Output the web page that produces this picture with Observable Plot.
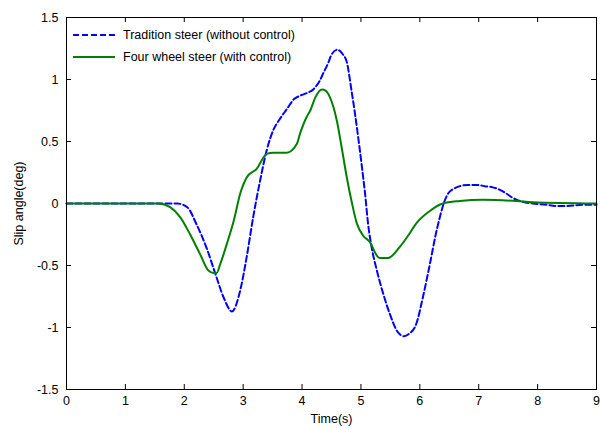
<!DOCTYPE html>
<html>
<head>
<meta charset="utf-8">
<script src="https://cdn.jsdelivr.net/npm/d3@7"></script>
<script src="https://cdn.jsdelivr.net/npm/@observablehq/plot@0.6"></script>
<style>
  html, body { margin: 0; padding: 0; background: #fff; }
  #wrap { position: relative; width: 602px; height: 428px; font-family: "Liberation Sans", Arial, sans-serif; }
  #wrap > svg { display: block; }
  #legend { position: absolute; left: 72px; top: 24px; font-size: 12.5px; color: #000; }
  #legend .row { display: flex; align-items: center; height: 22px; }
  #legend svg { margin-right: 7px; }
</style>
</head>
<body>
<div id="wrap"><div id="legend"></div></div>
<script>
// Tradition steer (without control) — blue dashed
const tradTime  = [0, 1.0, 1.39, 1.88, 2.05, 2.21, 2.38, 2.53, 2.67, 2.81, 2.95, 3.06, 3.17, 3.29, 3.40, 3.51, 3.62, 3.74, 3.86, 3.97, 4.08, 4.19, 4.30, 4.36, 4.45, 4.50, 4.60, 4.68, 4.76, 4.84, 4.90, 4.96, 5.01, 5.07, 5.12, 5.18, 5.27, 5.38, 5.49, 5.63, 5.73, 5.82, 5.94, 6.05, 6.17, 6.27, 6.34, 6.42, 6.48, 6.58, 6.68, 6.82, 6.96, 7.10, 7.24, 7.36, 7.47, 7.56, 7.64, 7.78, 7.92, 8.15, 8.30, 8.49, 8.76, 9.0];
const tradValue = [0, 0, 0, 0, -0.03, -0.17, -0.36, -0.57, -0.76, -0.87, -0.70, -0.43, -0.11, 0.19, 0.43, 0.59, 0.68, 0.76, 0.84, 0.87, 0.89, 0.92, 0.99, 1.05, 1.14, 1.20, 1.24, 1.21, 1.14, 0.91, 0.72, 0.51, 0.32, 0.08, -0.16, -0.35, -0.54, -0.73, -0.89, -1.04, -1.07, -1.05, -0.97, -0.76, -0.49, -0.25, -0.11, 0.02, 0.08, 0.12, 0.14, 0.15, 0.15, 0.14, 0.13, 0.11, 0.08, 0.05, 0.03, 0.01, 0.0, -0.01, -0.02, -0.02, -0.01, -0.01];

// Four wheel steer (with control) — green solid
const fwsTime  = [0, 1.0, 1.56, 1.76, 1.93, 2.10, 2.27, 2.41, 2.50, 2.55, 2.61, 2.72, 2.84, 2.95, 3.06, 3.23, 3.40, 3.51, 3.74, 3.91, 3.97, 4.08, 4.14, 4.22, 4.34, 4.40, 4.47, 4.59, 4.67, 4.76, 4.84, 4.93, 5.04, 5.15, 5.27, 5.32, 5.46, 5.66, 5.80, 5.94, 6.17, 6.39, 6.68, 7.07, 7.64, 7.92, 9.0];
const fwsValue = [0, 0, 0, -0.03, -0.11, -0.25, -0.41, -0.54, -0.56, -0.56, -0.49, -0.33, -0.14, 0.08, 0.21, 0.28, 0.40, 0.41, 0.41, 0.48, 0.57, 0.70, 0.75, 0.85, 0.92, 0.91, 0.86, 0.67, 0.46, 0.21, 0.02, -0.16, -0.26, -0.31, -0.42, -0.44, -0.44, -0.35, -0.26, -0.16, -0.06, 0.0, 0.02, 0.03, 0.02, 0.01, 0.0];

const xTicks = [0, 1, 2, 3, 4, 5, 6, 7, 8, 9];
const yTicks = [-1.5, -1, -0.5, 0, 0.5, 1, 1.5];
const seriesNames = ["Tradition steer (without control)", "Four wheel steer (with control)"];

const trad = tradTime.map((t, i) => ({t, v: tradValue[i]}));
const fws  = fwsTime.map((t, i) => ({t, v: fwsValue[i]}));

const W = 602, H = 428, mL = 66, mR = 6, mT = 17, mB = 39;
const fw = W - mL - mR, fh = H - mT - mB, tk = 5;

const chart = Plot.plot({
  width: W, height: H,
  marginLeft: mL, marginRight: mR, marginTop: mT, marginBottom: mB,
  style: {fontFamily: "'Liberation Sans', Arial, sans-serif", fontSize: "12.5px", color: "#000", background: "#fff"},
  x: {domain: [0, 9]},
  y: {domain: [-1.5, 1.5]},
  marks: [
    Plot.axisX(xTicks, {tickSize: 0, tickPadding: 7, label: "Time(s)", labelAnchor: "center", labelArrow: "none", labelOffset: 33, tickFormat: d => String(d)}),
    Plot.axisY(yTicks, {tickSize: 0, tickPadding: 8, label: "Slip angle(deg)", labelAnchor: "center", labelArrow: "none", labelOffset: 52, tickFormat: d => String(d)}),
    // inward ticks on all four sides
    Plot.ruleX(xTicks, {x: d => d, insetTop: fh - tk, stroke: "#000"}),
    Plot.ruleX(xTicks, {x: d => d, insetBottom: fh - tk, stroke: "#000"}),
    Plot.ruleY(yTicks, {y: d => d, insetRight: fw - tk, stroke: "#000"}),
    Plot.ruleY(yTicks, {y: d => d, insetLeft: fw - tk, stroke: "#000"}),
    Plot.line(trad, {x: "t", y: "v", stroke: "#0000ff", strokeWidth: 2, strokeDasharray: "6,3", curve: "monotone-x"}),
    Plot.line(fws, {x: "t", y: "v", stroke: "#008000", strokeWidth: 2, curve: "monotone-x"}),
    Plot.frame({stroke: "#000", strokeWidth: 1})
  ]
});
const wrap = document.getElementById("wrap");
wrap.insertBefore(chart, wrap.firstChild);

const legend = document.getElementById("legend");
const styles = [{c: "#0000ff", d: "6,3"}, {c: "#008000", d: null}];
seriesNames.forEach((name, i) => {
  const row = document.createElement("div");
  row.className = "row";
  row.innerHTML = `<svg width="44" height="10"><line x1="1" y1="5" x2="43" y2="5" stroke="${styles[i].c}" stroke-width="2" ${styles[i].d ? `stroke-dasharray="${styles[i].d}"` : ""}/></svg><span>${name}</span>`;
  legend.appendChild(row);
});
</script>
</body>
</html>
